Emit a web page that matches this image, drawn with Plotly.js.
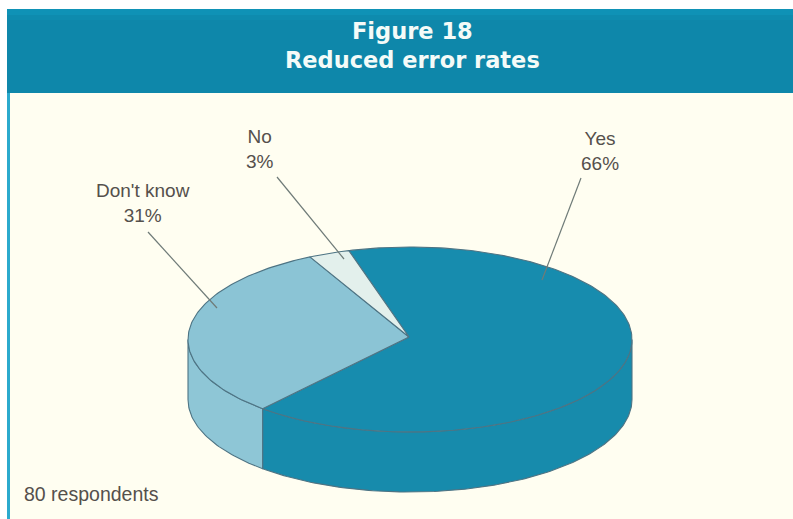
<!DOCTYPE html>
<html>
<head>
<meta charset="utf-8">
<script src="https://cdn.plot.ly/plotly-3.0.1.min.js"></script>
<style>html,body{margin:0;padding:0;background:#fff;overflow:hidden}#chart{width:793px;height:519px}</style>
</head>
<body>
<div id="chart"></div>
<script>
// Survey results
const categories = ["Yes", "Don't know", "No"];
const percents = [66, 31, 3];
const topColors = ["#178CAE", "#8BC4D5", "#E3F0EC"];
const sideColors = ["#178BAC", "#8EC6D6", "#E3F0EC"];
const titleLines = ["Figure 18", "Reduced error rates"];
const footnote = "80 respondents";

// Label anchors and leader lines for each category, in page pixels
const labelX = [600, 143, 260];
const labelY = [151, 202.5, 148.5];
const leaderFromX = [581, 148, 277];
const leaderFromY = [178, 232, 177];
const leaderToX = [542, 217, 344];
const leaderToY = [280, 308, 259];

// Disc projection
const cx = 410, cy = 339.5, rx = 222, ry = 92.5, depth = 60;
const apexX = 409, apexY = 337;
const startDeg = 106;   // the first slice's clockwise edge sits here, measured on the ellipse
const outline = "#4E7484";

const rim = (deg, drop) => {
  const a = deg * Math.PI / 180;
  return [cx + rx * Math.cos(a), cy - ry * Math.sin(a) + (drop || 0)];
};
const arc = (from, to, drop) => {
  const pts = [];
  const n = Math.max(2, Math.ceil(Math.abs(to - from)));
  for (let i = 0; i <= n; i++) pts.push(rim(from + (to - from) * i / n, drop));
  return pts;
};
const polyTrace = (pts, fill) => ({
  type: "scatter", mode: "lines", hoverinfo: "skip", showlegend: false,
  x: pts.map(p => p[0]), y: pts.map(p => p[1]),
  fill: "toself", fillcolor: fill,
  line: {color: outline, width: 1.1}
});

// Slices run clockwise from the start angle, in the order Yes, Don't know, No
const total = percents.reduce((a, b) => a + b, 0);
const slices = [];
let cursor = startDeg;
percents.forEach((v, i) => {
  const sweep = v / total * 360;
  slices.push({from: cursor, to: cursor - sweep, i});
  cursor -= sweep;
});

const traces = [];
// Side wall: only the part of each slice on the front half of the disc
slices.forEach(s => {
  for (const k of [0, -360]) {
    const hi = Math.min(s.from + k, 0);
    const lo = Math.max(s.to + k, -180);
    if (hi > lo) {
      const pts = arc(hi, lo, 0).concat(arc(lo, hi, depth));
      pts.push(pts[0]);
      traces.push(polyTrace(pts, sideColors[s.i]));
    }
  }
});
// Top face
slices.forEach(s => {
  const pts = [[apexX, apexY]].concat(arc(s.from, s.to, 0));
  pts.push([apexX, apexY]);
  traces.push(polyTrace(pts, topColors[s.i]));
});
// Leader lines
categories.forEach((c, i) => {
  traces.push({
    type: "scatter", mode: "lines", hoverinfo: "skip", showlegend: false,
    x: [leaderFromX[i], leaderToX[i]], y: [leaderFromY[i], leaderToY[i]],
    line: {color: "#6F7B78", width: 1.2}
  });
});

const rect = (x0, y0, x1, y1, color) => ({
  type: "rect", xref: "x", yref: "y", x0, y0, x1, y1,
  fillcolor: color, line: {width: 0}, layer: "below"
});

const labelFont = {family: "Liberation Sans", size: 19, color: "#55504C"};
const annotations = categories.map((c, i) => ({
  x: labelX[i], y: labelY[i], xref: "x", yref: "y", showarrow: false,
  text: c + "<br>" + percents[i] + "%", align: "center",
  font: labelFont
}));
annotations.push({
  x: 22, y: 494, xref: "x", yref: "y", xanchor: "left", showarrow: false,
  text: footnote, font: {family: "Liberation Sans", size: 19.5, color: "#55504C"}
});
titleLines.forEach((line, i) => {
  annotations.push({
    x: 412, y: 31 + i * 29, xref: "x", yref: "y", showarrow: false,
    text: "<b>" + line + "</b>",
    font: {family: "DejaVu Sans", size: 22.5, color: "#F4FBF8"}
  });
});

const layout = {
  width: 793, height: 519,
  margin: {l: 0, r: 0, t: 0, b: 0},
  paper_bgcolor: "#FFFFFF", plot_bgcolor: "rgba(0,0,0,0)",
  showlegend: false,
  xaxis: {range: [0, 793], visible: false, fixedrange: true},
  yaxis: {range: [519, 0], visible: false, fixedrange: true},
  shapes: [
    rect(7, 9, 793, 93, "#0E87AA"),
    rect(7, 9, 793, 15, "#0F92B6"),
    rect(7, 15, 793, 20, "#0E8BAE"),
    rect(7, 93, 10, 519, "#2BAACD"),
    rect(10, 93, 793, 519, "#FFFEF1")
  ],
  annotations
};

Plotly.newPlot("chart", traces, layout, {displayModeBar: false, staticPlot: true});
</script>
</body>
</html>
